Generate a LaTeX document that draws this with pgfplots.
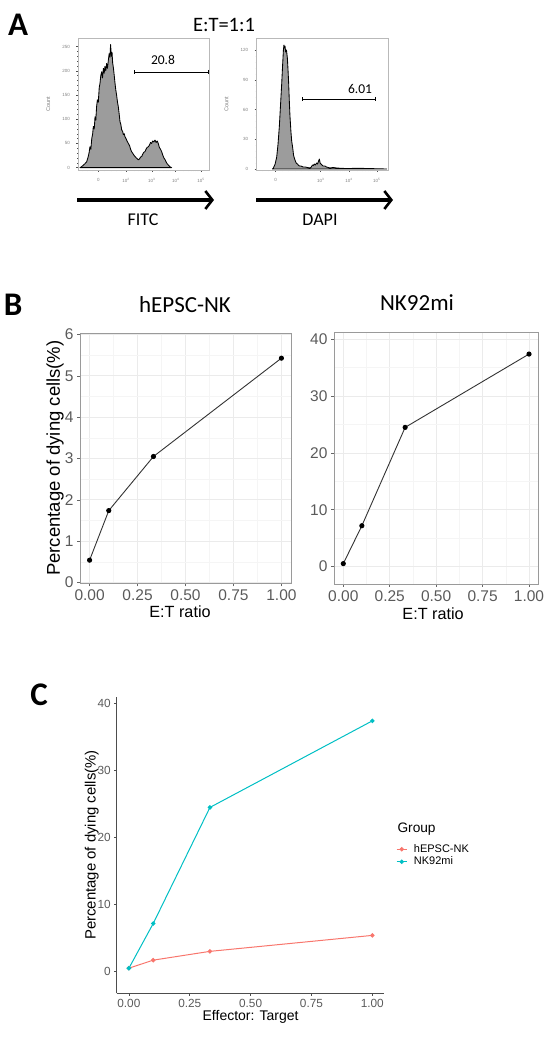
\documentclass[border=0pt]{standalone}
\usepackage{fontspec}
\setmainfont{Liberation Sans}
\newfontfamily\carlito{Carlito}
\usepackage{pgfplots}
\usepackage{pgfplotstable}
\pgfplotsset{compat=1.18}
\usetikzlibrary{arrows.meta}

\definecolor{ggred}{HTML}{F8766D}
\definecolor{ggcyan}{HTML}{00BFC4}
\definecolor{ticklab}{HTML}{5A5A5A}
\definecolor{gridmaj}{HTML}{EBEBEB}
\definecolor{gridmin}{HTML}{F5F5F5}
\definecolor{border}{HTML}{9A9A9A}
\definecolor{histfill}{HTML}{9C9C9C}
\definecolor{hgray}{HTML}{8A8A8A}
\definecolor{axgray}{HTML}{4D4D4D}

\pgfplotstableread{
x y
1.3 0
2.5 2
3.8 5
5.0 8
6.4 12
7.5 22
8.2 30
8.9 43
9.6 38
10.3 60
11.0 70
11.5 85
12.2 80
12.8 105
13.4 98
14.0 126
14.6 140
15.3 135
16.0 165
16.6 174
17.2 190
17.9 198
18.5 185
19.2 205
19.8 195
20.4 209
21.0 200
21.7 215
22.3 205
23.0 222
23.6 235
24.2 228
24.7 254
25.3 230
25.8 238
26.3 216
26.9 205
27.5 190
28.1 174
28.7 160
29.3 150
30.0 135
30.6 126
31.3 110
31.9 95
32.5 90
33.2 78
33.9 75
34.5 68
35.2 70
35.7 64
36.5 60
37.3 55
38.3 50
39.3 45
40.0 38
40.8 33
41.6 30
42.5 26
43.4 23
44.4 20
45.2 18
45.9 16
46.8 18
47.7 22
48.5 23
49.3 28
50.2 32
51.0 33
51.8 38
52.7 42
53.6 43
54.5 47
55.3 52
56.1 50
56.9 55
57.8 53
58.7 57
59.5 52
60.4 55
61.2 50
62.0 42
62.9 38
63.8 33
64.6 26
65.5 20
66.3 17
67.2 12
68.0 8
68.9 5.5
70.0 2
71.4 0
}\fitc

\pgfplotstableread{
x y
12.0 0
12.7 1
14.0 5
15.2 12
16.2 25
17.2 43
18.0 62
19.0 86
19.7 105
20.3 120
20.7 125
21.0 122
21.5 124
22.0 118
22.6 120
23.3 112
23.8 100
24.3 86
24.8 68
25.3 53
26.0 38
26.6 28
27.3 22
28.0 14
28.6 11
29.1 9
30.0 6
31.0 5
31.6 4
32.5 3
33.5 3
35.4 2
37.0 2
38.5 1.5
40.5 1
41.5 2
42.3 4
43.0 3.5
43.8 5
44.5 4
45.6 6
46.3 5
47.0 8
47.6 10
48.2 6
48.9 5
49.6 4
50.5 3
51.9 3
53.0 2
55.7 1
58.0 1.5
60.8 1
65.0 0.6
70.9 0.5
76.0 0.8
83.5 0.5
90.0 0.3
98.7 0
}\dapi

\pgfplotstableread{
x y
0 0.54
0.1 1.74
0.333 3.05
1 5.43
}\hepsc

\pgfplotstableread{
x y
0 0.53
0.1 7.2
0.333 24.5
1 37.4
}\nkmi

\pgfplotsset{
  hstyle/.style={scale only axis, anchor=south west, xmin=0, xmax=100,
    axis line style={draw=gray!55, line width=0.5pt},
    tick align=outside, tick pos=left,
    major tick length=2pt, minor tick length=1.2pt,
    tick style={draw=gray!60!black, line width=0.4pt},
    tick label style={font=\fontsize{4.5}{4.5}\selectfont, text=gray},
    /pgf/number format/assume math mode=true,
    xticklabel style={yshift=-3pt},
    yticklabel style={xshift=-3pt},
    minor y tick num=4,
    ylabel={Count},
    ylabel style={font=\fontsize{5.6}{5.6}\selectfont, text=gray,
      at={(axis description cs:-0.23,0.5)}, anchor=center},
  },
  bstyle/.style={scale only axis, anchor=south west, xmin=-0.05, xmax=1.05,
    xtick={0,0.25,0.5,0.75,1}, xticklabels={0.00,0.25,0.50,0.75,1.00},
    minor x tick num=1, minor y tick num=1, grid=both,
    major grid style={draw=gridmaj, line width=0.9pt},
    minor grid style={draw=gridmin, line width=0.5pt},
    axis line style={draw=border, line width=0.8pt},
    tick align=outside, tick pos=left,
    major tick length=3pt, minor tick length=0pt,
    tick style={draw=gray!80!black, line width=0.7pt},
    tick label style={font=\fontsize{15.5}{15.5}\selectfont, text=ticklab},
    /pgf/number format/assume math mode=true,
    xlabel style={font=\fontsize{16.2}{16.2}\selectfont, anchor=center},
    ylabel style={font=\fontsize{18.5}{18.5}\selectfont, anchor=center},
  },
}

\begin{document}
\begin{tikzpicture}
\useasboundingbox (0pt,0pt) rectangle (546pt,1039pt);

% ---------------- Panel A ----------------
\node[font=\carlito\bfseries\fontsize{33}{33}\selectfont] at (18pt,1014pt) {A};
\node[font=\carlito\fontsize{20.5}{20.5}\selectfont] at (224pt,1014pt) {E:T=1:1};

\begin{axis}[hstyle, at={(78.3pt,869pt)}, width=130.7pt, height=131.7pt,
  ymin=-4.8, ymax=267,
  ytick={0,50,100,150,200,250},
  xtick={15.3,36.5,56.2,74.5,93.9},
  xticklabels={0,10\textsuperscript{2},10\textsuperscript{3},10\textsuperscript{4},10\textsuperscript{5}},
  minor xtick={3,7,11,20,25,29,33,42.4,45.9,48.4,50.3,51.8,53.1,54.3,55.3,61.7,64.9,67.2,69.0,70.4,71.7,72.7,73.7,80.3,83.8,86.2,88.1,89.6,90.9,92.0,93.0},
  clip=false]
\addplot[fill=histfill, draw=black, line width=0.85pt, line join=round] table {\fitc} \closedcycle;
\draw[{Bar[width=4pt]}-{Bar[width=4pt]}, line width=0.7pt] (axis cs:42.6,197.7) -- (axis cs:100,197.7);
\node[font=\carlito\fontsize{13.5}{13.5}\selectfont] at (axis cs:64.8,222) {20.8};
\end{axis}

\begin{axis}[hstyle, at={(256.7pt,869pt)}, width=131.6pt, height=131.7pt,
  ymin=-1, ymax=131.8,
  ytick={0,30,60,90,120},
  xtick={14.4,48.6,70.1,91.2},
  xticklabels={0,10\textsuperscript{3},10\textsuperscript{4},10\textsuperscript{5}},
  minor xtick={4,9,19,24,29,34,39,44,55.1,58.9,61.5,63.6,65.3,66.8,68.0,69.1,76.5,80.2,82.8,84.9,86.5,87.9,89.2,90.2},
  clip=false]
\addplot[fill=histfill, draw=black, line width=0.85pt, line join=round] table {\dapi} \closedcycle;
\draw[{Bar[width=4pt]}-{Bar[width=4pt]}, line width=0.7pt] (axis cs:34.4,70.6) -- (axis cs:90.7,70.6);
\node[font=\carlito\fontsize{13.5}{13.5}\selectfont] at (axis cs:78.5,81) {6.01};
\end{axis}

\draw[line width=3.6pt, -{Straight Barb[length=7pt,width=18pt,line width=2.6pt]}] (77pt,839pt) -- (214pt,839pt);
\draw[line width=3.6pt, -{Straight Barb[length=7pt,width=18pt,line width=2.6pt]}] (256pt,839pt) -- (393pt,839pt);
\node[font=\carlito\fontsize{18}{18}\selectfont] at (143pt,819pt) {FITC};
\node[font=\carlito\fontsize{18}{18}\selectfont] at (320pt,819pt) {DAPI};

% ---------------- Panel B ----------------
\node[font=\carlito\bfseries\fontsize{33}{33}\selectfont] at (13pt,734pt) {B};
\node[font=\carlito\fontsize{23}{23}\selectfont] at (185pt,734pt) {hEPSC-NK};
\node[font=\carlito\fontsize{23}{23}\selectfont] at (417pt,736pt) {NK92mi};

\begin{axis}[bstyle, at={(80pt,455.7pt)}, width=211pt, height=250.3pt,
  ymin=-0.02, ymax=6.04, ytick={0,1,2,3,4,5,6},
  xlabel={E:T ratio}, ylabel={Percentage of dying cells(\%)},
  xlabel style={at={(axis description cs:0.474,-0.113)}},
  ylabel style={at={(axis description cs:-0.118,0.5)}}]
\addplot[color=black!80, line width=0.9pt, mark=*, mark size=2.1pt, mark options={fill=black, draw=black}] table {\hepsc};
\end{axis}

\begin{axis}[bstyle, at={(334pt,455pt)}, width=204.3pt, height=251.3pt,
  ymin=-3.05, ymax=41.16, ytick={0,10,20,30,40},
  xlabel={E:T ratio},
  xlabel style={at={(axis description cs:0.485,-0.119)}}]
\addplot[color=black!80, line width=0.9pt, mark=*, mark size=2.1pt, mark options={fill=black, draw=black}] table {\nkmi};
\end{axis}

% ---------------- Panel C ----------------
\node[font=\carlito\bfseries\fontsize{33}{33}\selectfont] at (39pt,344pt) {C};

\begin{axis}[scale only axis, anchor=south west, at={(116.7pt,45.7pt)},
  width=267.3pt, height=296.6pt,
  xmin=-0.05, xmax=1.048, ymin=-3.2, ymax=41.0,
  axis x line*=bottom, axis y line*=left,
  x axis line style={-}, y axis line style={-},
  axis line style={draw=axgray, line width=0.8pt},
  xtick={0,0.25,0.5,0.75,1}, xticklabels={0.00,0.25,0.50,0.75,1.00},
  ytick={0,10,20,30,40},
  tick align=outside, major tick length=2.5pt,
  tick style={draw=axgray, line width=0.7pt},
  tick label style={font=\fontsize{11.8}{11.8}\selectfont, text=ticklab},
  /pgf/number format/assume math mode=true,
  xlabel={Effector: Target}, ylabel={Percentage of dying cells(\%)},
  xlabel style={font=\fontsize{14}{14}\selectfont, at={(axis description cs:0.501,-0.079)}, anchor=center},
  ylabel style={font=\fontsize{14.9}{14.9}\selectfont, at={(axis description cs:-0.0935,0.5)}, anchor=center},
  legend style={at={(axis description cs:1.045,0.4646)}, anchor=west, draw=none, fill=none,
    font=\fontsize{11}{11}\selectfont, inner sep=0pt, row sep=0pt,
    nodes={text height=8pt, text depth=2.2pt, inner sep=1.2pt},
    /tikz/every odd column/.append style={column sep=5.5pt}},
  legend cell align=left,
  legend image code/.code={\draw[mark repeat=2,mark phase=2,#1] plot coordinates {(0pt,0pt) (5pt,0pt) (10pt,0pt)};},
  clip=false]
\addplot[color=ggred, line width=1pt, mark=*, mark size=1.7pt] table {\hepsc};
\addlegendentry{hEPSC-NK}
\addplot[color=ggcyan, line width=1pt, mark=*, mark size=1.7pt] table {\nkmi};
\addlegendentry{NK92mi}
\end{axis}
\node[anchor=west, font=\fontsize{13.7}{13.7}\selectfont] at (394pt,210pt) {Group};

\end{tikzpicture}
\end{document}
